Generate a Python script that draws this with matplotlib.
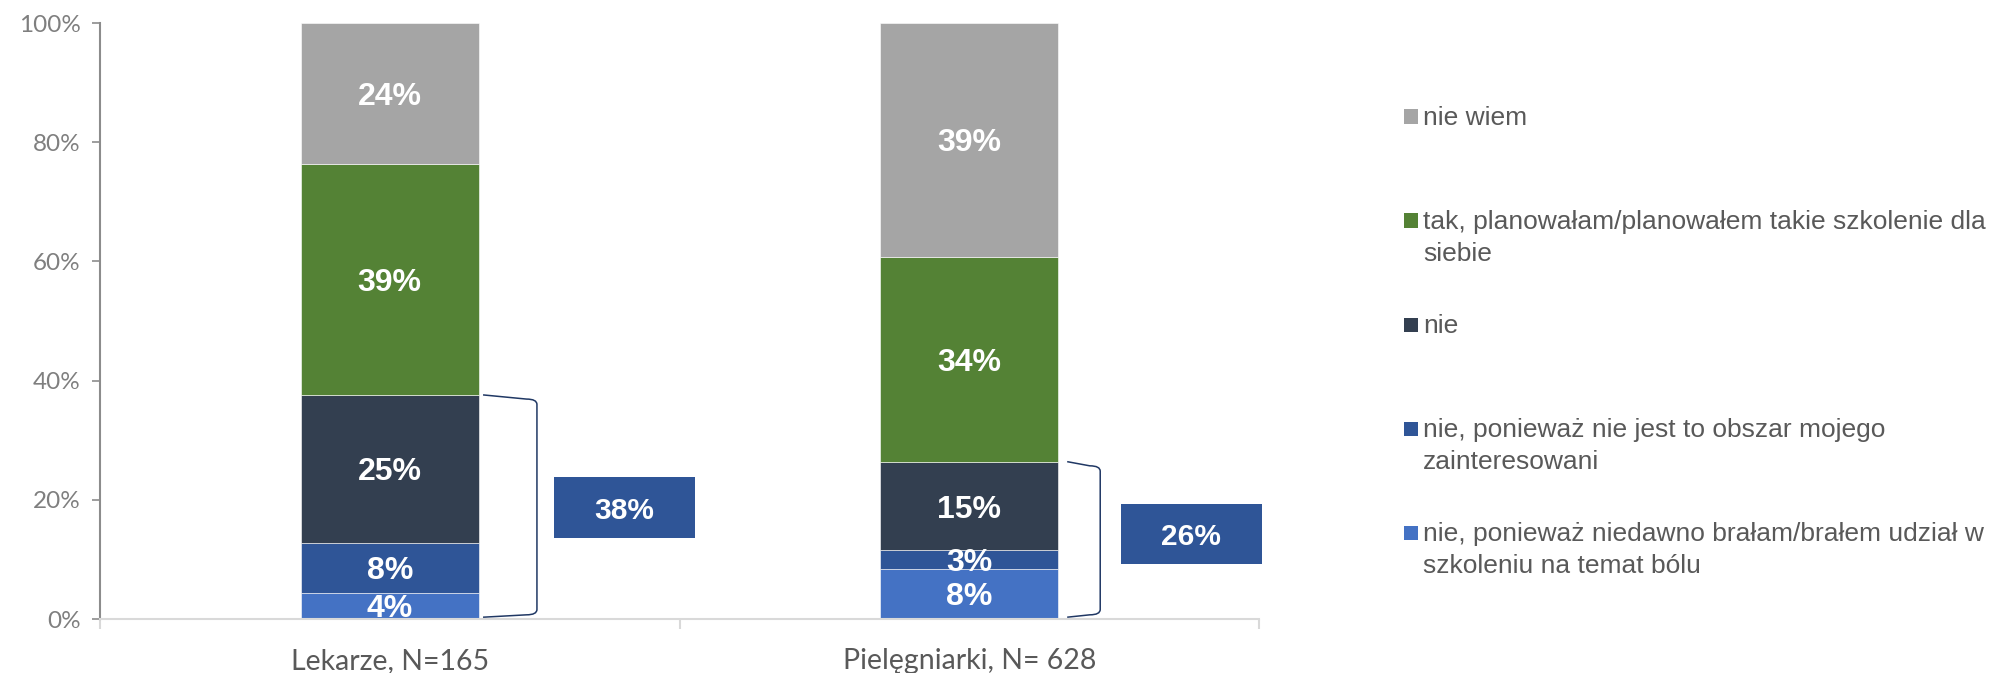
import matplotlib
matplotlib.use("Agg")
import matplotlib.pyplot as plt
from matplotlib.patches import Rectangle, PathPatch
from matplotlib.path import Path
import numpy as np

# categories and series (bottom to top of the stack)
groups = ["Lekarze, N=165", "Pielęgniarki, N= 628"]
series = [
    "nie, ponieważ niedawno brałam/brałem udział w\nszkoleniu na temat bólu",
    "nie, ponieważ nie jest to obszar mojego\nzainteresowani",
    "nie",
    "tak, planowałam/planowałem takie szkolenie dla\nsiebie",
    "nie wiem",
]
niedawno = [4.4, 8.4]
nie_obszar = [8.4, 3.1]
nie = [24.8, 14.9]
tak = [38.7, 34.4]
nie_wiem = [23.7, 39.2]
nie_razem = [38, 26]   # summed "nie" answers shown in the side boxes
yticks = [0, 20, 40, 60, 80, 100]

values = [niedawno, nie_obszar, nie, tak, nie_wiem]
colors = ["#4472C4", "#2F5597", "#333F50", "#548235", "#A5A5A5"]
box_color = "#2F5597"
bracket_color = "#203864"

W, H = 1992, 673
fig = plt.figure(figsize=(W / 100, H / 100), dpi=100)
ax = fig.add_axes([100 / W, 54 / H, 1159 / W, 596 / H])

x = np.arange(len(groups))
bar_w = 0.307
bottom = np.zeros(len(groups))
for vals, c in zip(values, colors):
    vals = np.array(vals)
    ax.bar(x, vals, bar_w, bottom=bottom, color=c, edgecolor="white", linewidth=0.4)
    for xi, v, b in zip(x, vals, bottom):
        ax.text(xi, b + v / 2, f"{v:.0f}%", ha="center", va="center_baseline", color="white",
                fontsize=23, fontweight="bold", family="Liberation Sans", clip_on=True)
    bottom += vals

ax.set_xlim(-0.5, 1.5)
ax.set_ylim(0, 100)
ax.set_yticks(yticks)
ax.set_yticklabels([f"{t}%" for t in yticks], family="Lato", fontsize=17.5, color="#7F7F7F")
ax.tick_params(axis="y", length=6, width=1.2, color="#8C8C8C", pad=8)

ax.set_xticks([-0.5, 0.5, 1.5])
ax.set_xticklabels([])
ax.tick_params(axis="x", which="major", length=7, width=1.5, color="#D9D9D9")
ax.set_xticks(x, minor=True)
ax.set_xticklabels(groups, minor=True, family="Lato", fontsize=20.5, color="#595959")
ax.tick_params(axis="x", which="minor", length=0, pad=21)

for s in ["top", "right"]:
    ax.spines[s].set_visible(False)
ax.spines["left"].set_color("#8C8C8C")
ax.spines["left"].set_linewidth(1.5)
ax.spines["bottom"].set_color("#D9D9D9")
ax.spines["bottom"].set_linewidth(1.5)

# brackets and summary boxes
nie_sum = np.array(niedawno) + np.array(nie_obszar) + np.array(nie)
bracket_x0 = [0.161, 1.169]
bracket_x1 = [0.254, 1.226]
box_cx = [0.405, 1.383]
box_cy = [18.7, 14.3]
for i in range(len(groups)):
    top = nie_sum[i]
    x0, x1 = bracket_x0[i], bracket_x1[i]
    dx, dy, e = 0.018, 1.6, 0.7
    verts = [(x0, top), (x1 - dx, top - e), (x1, top - e), (x1, top - dy),
             (x1, dy), (x1, e), (x1 - dx, e), (x0, 0.3)]
    codes = [Path.MOVETO, Path.LINETO, Path.CURVE3, Path.CURVE3,
             Path.LINETO, Path.CURVE3, Path.CURVE3, Path.LINETO]
    ax.add_patch(PathPatch(Path(verts, codes), fill=False, edgecolor=bracket_color,
                           linewidth=1.1, clip_on=False))
    bw, bh = 0.243, 10.1
    ax.add_patch(Rectangle((box_cx[i] - bw / 2, box_cy[i] - bh / 2), bw, bh,
                           facecolor=box_color, edgecolor="none", clip_on=False))
    ax.text(box_cx[i], box_cy[i], f"{nie_razem[i]}%", ha="center", va="center_baseline",
            color="white", fontsize=21.5, fontweight="bold", family="Liberation Sans",
            clip_on=False)

# legend drawn by hand, top entry is the top of the stack
leg_y0, leg_step = 116.5, 104
for k, (name, c) in enumerate(zip(series[::-1], colors[::-1])):
    yc = leg_y0 + k * leg_step
    fig.add_artist(Rectangle((1404 / W, 1 - (yc + 7) / H), 14 / W, 14 / H,
                             transform=fig.transFigure, facecolor=c, edgecolor="none"))
    for j, line in enumerate(name.split("\n")):
        fig.text(1423 / W, 1 - (yc + 8.5 + j * 32) / H, line, ha="left", va="baseline",
                 fontsize=19, family="Liberation Sans", color="#595959")

fig.savefig("out.png", dpi=100, facecolor="white")
